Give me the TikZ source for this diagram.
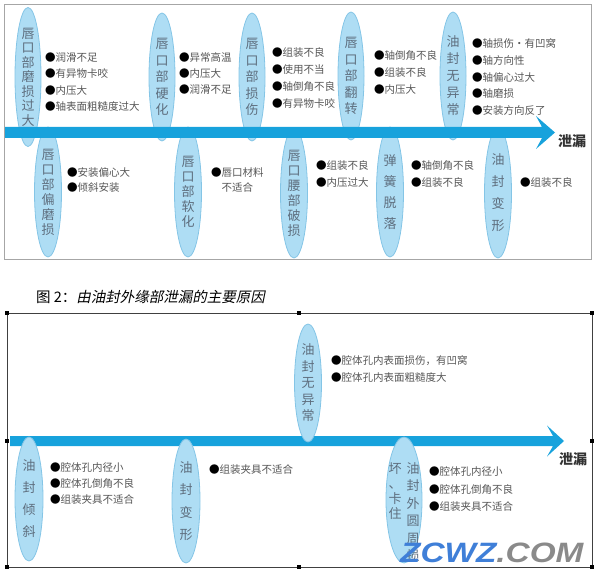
\documentclass[tikz,border=0pt]{standalone}
\usepackage{fontspec}
\setmainfont{Noto Sans CJK SC}
\newfontfamily\capit[FakeSlant=0.2]{Noto Sans CJK SC}
\newfontfamily\wmfont{Liberation Sans}
\usetikzlibrary{shapes.geometric}
\definecolor{ellfill}{HTML}{AEDDF4}
\definecolor{elldraw}{HTML}{84C5E6}
\definecolor{arrowc}{HTML}{17A2DC}
\definecolor{elltext}{HTML}{5E6E7E}
\definecolor{bultext}{HTML}{555555}
\definecolor{wmblue}{HTML}{3F7FD8}
\definecolor{wmgray}{HTML}{8A8A8A}
\newcommand{\bl}[1]{{\color{black}●}#1}
\begin{document}
\begin{tikzpicture}[x=1pt,y=-1pt,
  ell/.style={ellipse, fill=ellfill, draw=elldraw, line width=0.8pt, inner sep=0pt, align=center, text=elltext},
  vt/.style={font=\fontsize{13}{#1}\selectfont},
  bul/.style={anchor=west, inner sep=0pt, align=left, text=bultext, font=\fontsize{10.5}{#1}\selectfont},
  lab/.style={font=\bfseries\fontsize{14}{14}\selectfont, text=black!80},
  handle/.style={fill=black}
]
\useasboundingbox (0,0) rectangle (597,572);
% ---------- top frame ----------
\draw[gray!70, line width=0.8pt] (4,4) rectangle (591,259);
% top ellipses (above spine)
\node[ell, vt=14.5, minimum width=26pt, minimum height=128pt] (e1) at (28,77) {唇\\口\\部\\磨\\损\\过\\大};
\node[ell, vt=16.5, minimum width=26pt, minimum height=128pt] (e2) at (162,77) {唇\\口\\部\\硬\\化};
\node[ell, vt=16.5, minimum width=26pt, minimum height=128pt] (e3) at (252,77) {唇\\口\\部\\损\\伤};
\node[ell, vt=16.5, minimum width=26pt, minimum height=128pt] (e4) at (351,76) {唇\\口\\部\\翻\\转};
\node[ell, vt=17, minimum width=26pt, minimum height=128pt] (e5) at (453,76) {油\\封\\无\\异\\常};
% bottom ellipses (below spine)
\node[ell, vt=15, minimum width=27pt, minimum height=130pt] (f1) at (48,192) {唇\\口\\部\\偏\\磨\\损};
\node[ell, vt=15, minimum width=27pt, minimum height=130pt] (f2) at (188,192) {唇\\口\\部\\软\\化};
\node[ell, vt=15, minimum width=27pt, minimum height=130pt] (f3) at (294,193) {唇\\口\\腰\\部\\破\\损};
\node[ell, vt=21, minimum width=27pt, minimum height=130pt] (f4) at (390,192) {弹\\簧\\脱\\落};
\node[ell, vt=22, minimum width=27pt, minimum height=130pt] (f5) at (498,193) {油\\封\\变\\形};
% spine
\coordinate (s1) at (5,127);
\fill[arrowc] (s1) -- (542,127) -- (536,116) -- (555,132.5) -- (536,149) -- (542,138) -- (5,138) -- cycle;
\node[lab] (l1) at (572,141) {泄漏};
% bullets top
\node[bul=16.3] (t1) at (45,82) {\bl{润滑不足}\\\bl{有异物卡咬}\\\bl{内压大}\\\bl{轴表面粗糙度过大}};
\node[bul=15.7] (t2) at (179,73.5) {\bl{异常高温}\\\bl{内压大}\\\bl{润滑不足}};
\node[bul=16.8] (t3) at (272,78) {\bl{组装不良}\\\bl{使用不当}\\\bl{轴倒角不良}\\\bl{有异物卡咬}};
\node[bul=17] (t4) at (374,72) {\bl{轴倒角不良}\\\bl{组装不良}\\\bl{内压大}};
\node[bul=16.8] (t5) at (472,77) {\bl{轴损伤・有凹窝}\\\bl{轴方向性}\\\bl{轴偏心过大}\\\bl{轴磨损}\\\bl{安装方向反了}};
\node[bul=15.5] (u1) at (67,180) {\bl{安装偏心大}\\\bl{倾斜安装}};
\node[bul=15.5] (u2) at (211,180) {\bl{唇口材料}\\\phantom{●}不适合};
\node[bul=17] (u3) at (316,173.5) {\bl{组装不良}\\\bl{内压过大}};
\node[bul=17] (u4) at (411,173.5) {\bl{轴倒角不良}\\\bl{组装不良}};
\node[bul=17] (u5) at (520,182) {\bl{组装不良}};
% ---------- caption ----------
\node[anchor=west, inner sep=0pt, font=\fontsize{14.5}{15}\selectfont] (cap) at (36,297) {图 2：{\capit 由油封外缘部泄漏的主要原因}};
% ---------- bottom frame ----------
\draw[black!75, line width=0.8pt] (7,313) rectangle (592,567);
\foreach \hx/\hy in {7/313, 299/313, 592/313, 7/441, 592/441, 7/567, 299/567, 592/567}
  \fill[handle] (\hx-2.2,\hy-2.2) rectangle (\hx+2.2,\hy+2.2);
% spine bottom
\coordinate (s2) at (10,436);
\fill[arrowc] (s2) -- (553,436) -- (547,425.5) -- (564,441) -- (547,456.5) -- (553,446) -- (10,446) -- cycle;
\node[lab] (l2) at (573,459) {泄漏};
% ellipses bottom
\node[ell, vt=22, minimum width=28pt, minimum height=124pt] (g1) at (29,499) {油\\封\\倾\\斜};
\node[ell, vt=22.5, minimum width=28pt, minimum height=124pt] (g2) at (186,501) {油\\封\\变\\形};
\node[ell, vt=16.5, minimum width=27pt, minimum height=118pt] (g3) at (308,383) {油\\封\\无\\异\\常};
\node[ell, minimum width=36pt, minimum height=126pt] (g4) at (404,500) {};
\node[inner sep=0pt, align=center, text=elltext, font=\fontsize{13}{17.5}\selectfont] (g4a) at (413,512) {油\\封\\外\\圆\\周\\损};
\node[inner sep=0pt, align=center, text=elltext, font=\fontsize{13}{15}\selectfont] (g4b) at (395,491) {坏\\、\\卡\\住};
% bullets bottom
\node[bul=16] (v1) at (50,484) {\bl{腔体孔内径小}\\\bl{腔体孔倒角不良}\\\bl{组装夹具不适合}};
\node[bul=16] (v2) at (209,470) {\bl{组装夹具不适合}};
\node[bul=17] (v3) at (331,368.5) {\bl{腔体孔内表面损伤，有凹窝}\\\bl{腔体孔内表面粗糙度大}};
\node[bul=17.5] (v4) at (429,489.5) {\bl{腔体孔内径小}\\\bl{腔体孔倒角不良}\\\bl{组装夹具不适合}};
% watermark
\node[anchor=west, inner sep=0pt, xscale=1.19, font=\wmfont\bfseries\itshape\fontsize{28}{28}\selectfont] (wm) at (400,553) {\textcolor{wmblue}{ZCWZ}\textcolor{wmgray}{.COM}};
\end{tikzpicture}
\end{document}
